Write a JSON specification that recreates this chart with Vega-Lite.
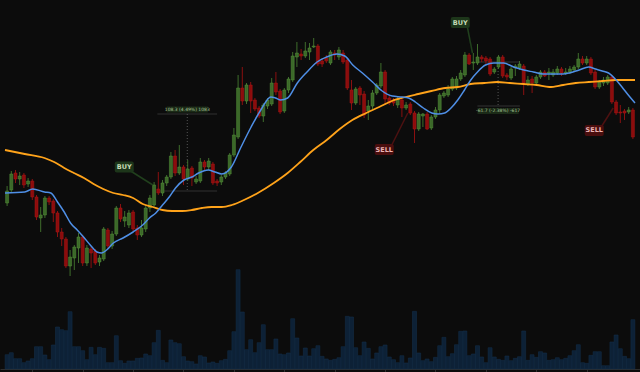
{
  "$schema": "https://vega.github.io/schema/vega-lite/v6.json",
  "width": 640,
  "height": 372,
  "padding": 0,
  "autosize": {"type": "none"},
  "background": "#0c0c0c",
  "config": {"view": {"stroke": null}},
  "datasets": {
    "candles": [
      {"i":0,"o":2397,"h":2414,"l":2394,"c":2409,"v":143000},
      {"i":1,"o":2410,"h":2429,"l":2408,"c":2426,"v":163000},
      {"i":2,"o":2427,"h":2430,"l":2417,"c":2421,"v":103000},
      {"i":3,"o":2421,"h":2428,"l":2415,"c":2424,"v":103000},
      {"i":4,"o":2425,"h":2427,"l":2412,"c":2415,"v":63000},
      {"i":5,"o":2416,"h":2422,"l":2413,"c":2419,"v":80000},
      {"i":6,"o":2419,"h":2421,"l":2400,"c":2403,"v":103000},
      {"i":7,"o":2403,"h":2405,"l":2380,"c":2383,"v":223000},
      {"i":8,"o":2382,"h":2393,"l":2368,"c":2385,"v":223000},
      {"i":9,"o":2385,"h":2404,"l":2382,"c":2402,"v":140000},
      {"i":10,"o":2402,"h":2404,"l":2395,"c":2398,"v":93000},
      {"i":11,"o":2399,"h":2401,"l":2378,"c":2387,"v":240000},
      {"i":12,"o":2387,"h":2389,"l":2363,"c":2368,"v":420000},
      {"i":13,"o":2368,"h":2372,"l":2354,"c":2361,"v":393000},
      {"i":14,"o":2361,"h":2363,"l":2332,"c":2334,"v":383000},
      {"i":15,"o":2334,"h":2350,"l":2324,"c":2343,"v":573000},
      {"i":16,"o":2342,"h":2355,"l":2330,"c":2353,"v":223000},
      {"i":17,"o":2352,"h":2367,"l":2337,"c":2363,"v":223000},
      {"i":18,"o":2363,"h":2365,"l":2334,"c":2337,"v":183000},
      {"i":19,"o":2337,"h":2355,"l":2334,"c":2352,"v":93000},
      {"i":20,"o":2351,"h":2353,"l":2332,"c":2347,"v":217000},
      {"i":21,"o":2349,"h":2351,"l":2335,"c":2337,"v":143000},
      {"i":22,"o":2338,"h":2345,"l":2334,"c":2342,"v":217000},
      {"i":23,"o":2341,"h":2373,"l":2339,"c":2371,"v":207000},
      {"i":24,"o":2370,"h":2372,"l":2351,"c":2354,"v":63000},
      {"i":25,"o":2354,"h":2369,"l":2351,"c":2366,"v":63000},
      {"i":26,"o":2366,"h":2394,"l":2364,"c":2392,"v":333000},
      {"i":27,"o":2392,"h":2396,"l":2378,"c":2381,"v":83000},
      {"i":28,"o":2379,"h":2389,"l":2373,"c":2383,"v":57000},
      {"i":29,"o":2375,"h":2390,"l":2372,"c":2387,"v":80000},
      {"i":30,"o":2388,"h":2390,"l":2369,"c":2371,"v":80000},
      {"i":31,"o":2372,"h":2375,"l":2360,"c":2365,"v":107000},
      {"i":32,"o":2365,"h":2380,"l":2363,"c":2372,"v":110000},
      {"i":33,"o":2371,"h":2395,"l":2368,"c":2392,"v":150000},
      {"i":34,"o":2392,"h":2405,"l":2388,"c":2402,"v":133000},
      {"i":35,"o":2395,"h":2418,"l":2393,"c":2415,"v":263000},
      {"i":36,"o":2411,"h":2428,"l":2405,"c":2407,"v":387000},
      {"i":37,"o":2407,"h":2420,"l":2404,"c":2417,"v":87000},
      {"i":38,"o":2417,"h":2425,"l":2414,"c":2423,"v":63000},
      {"i":39,"o":2423,"h":2448,"l":2421,"c":2444,"v":290000},
      {"i":40,"o":2444,"h":2450,"l":2424,"c":2427,"v":263000},
      {"i":41,"o":2427,"h":2455,"l":2425,"c":2433,"v":253000},
      {"i":42,"o":2433,"h":2435,"l":2415,"c":2421,"v":123000},
      {"i":43,"o":2421,"h":2440,"l":2419,"c":2431,"v":80000},
      {"i":44,"o":2432,"h":2434,"l":2414,"c":2422,"v":73000},
      {"i":45,"o":2418,"h":2424,"l":2416,"c":2421,"v":50000},
      {"i":46,"o":2419,"h":2442,"l":2417,"c":2438,"v":133000},
      {"i":47,"o":2438,"h":2440,"l":2430,"c":2433,"v":120000},
      {"i":48,"o":2433,"h":2442,"l":2430,"c":2439,"v":60000},
      {"i":49,"o":2436,"h":2438,"l":2415,"c":2417,"v":70000},
      {"i":50,"o":2419,"h":2421,"l":2414,"c":2417,"v":57000},
      {"i":51,"o":2418,"h":2425,"l":2415,"c":2423,"v":83000},
      {"i":52,"o":2423,"h":2429,"l":2421,"c":2427,"v":97000},
      {"i":53,"o":2426,"h":2447,"l":2424,"c":2445,"v":183000},
      {"i":54,"o":2445,"h":2472,"l":2443,"c":2465,"v":373000},
      {"i":55,"o":2463,"h":2525,"l":2461,"c":2512,"v":993000},
      {"i":56,"o":2512,"h":2533,"l":2495,"c":2499,"v":570000},
      {"i":57,"o":2499,"h":2517,"l":2496,"c":2515,"v":193000},
      {"i":58,"o":2515,"h":2518,"l":2487,"c":2499,"v":293000},
      {"i":59,"o":2500,"h":2502,"l":2489,"c":2491,"v":163000},
      {"i":60,"o":2492,"h":2494,"l":2482,"c":2484,"v":263000},
      {"i":61,"o":2484,"h":2497,"l":2478,"c":2495,"v":443000},
      {"i":62,"o":2494,"h":2502,"l":2491,"c":2500,"v":193000},
      {"i":63,"o":2496,"h":2522,"l":2494,"c":2517,"v":193000},
      {"i":64,"o":2517,"h":2528,"l":2505,"c":2508,"v":300000},
      {"i":65,"o":2509,"h":2511,"l":2486,"c":2488,"v":150000},
      {"i":66,"o":2489,"h":2512,"l":2487,"c":2510,"v":143000},
      {"i":67,"o":2510,"h":2523,"l":2507,"c":2521,"v":160000},
      {"i":68,"o":2520,"h":2548,"l":2518,"c":2544,"v":503000},
      {"i":69,"o":2543,"h":2558,"l":2533,"c":2547,"v":310000},
      {"i":70,"o":2546,"h":2551,"l":2540,"c":2544,"v":130000},
      {"i":71,"o":2544,"h":2558,"l":2542,"c":2549,"v":210000},
      {"i":72,"o":2548,"h":2557,"l":2540,"c":2552,"v":130000},
      {"i":73,"o":2553,"h":2562,"l":2552,"c":2554,"v":203000},
      {"i":74,"o":2554,"h":2556,"l":2534,"c":2536,"v":233000},
      {"i":75,"o":2539,"h":2542,"l":2533,"c":2536,"v":127000},
      {"i":76,"o":2542,"h":2545,"l":2537,"c":2539,"v":100000},
      {"i":77,"o":2537,"h":2550,"l":2535,"c":2548,"v":87000},
      {"i":78,"o":2547,"h":2550,"l":2540,"c":2545,"v":97000},
      {"i":79,"o":2543,"h":2553,"l":2540,"c":2550,"v":113000},
      {"i":80,"o":2547,"h":2550,"l":2536,"c":2538,"v":223000},
      {"i":81,"o":2540,"h":2542,"l":2510,"c":2512,"v":527000},
      {"i":82,"o":2510,"h":2520,"l":2490,"c":2497,"v":520000},
      {"i":83,"o":2497,"h":2513,"l":2495,"c":2511,"v":213000},
      {"i":84,"o":2512,"h":2514,"l":2495,"c":2505,"v":133000},
      {"i":85,"o":2506,"h":2509,"l":2482,"c":2485,"v":270000},
      {"i":86,"o":2489,"h":2500,"l":2480,"c":2494,"v":207000},
      {"i":87,"o":2494,"h":2510,"l":2491,"c":2507,"v":100000},
      {"i":88,"o":2507,"h":2517,"l":2505,"c":2515,"v":160000},
      {"i":89,"o":2514,"h":2537,"l":2512,"c":2528,"v":223000},
      {"i":90,"o":2528,"h":2530,"l":2495,"c":2501,"v":240000},
      {"i":91,"o":2502,"h":2505,"l":2495,"c":2497,"v":120000},
      {"i":92,"o":2500,"h":2502,"l":2494,"c":2497,"v":93000},
      {"i":93,"o":2495,"h":2504,"l":2492,"c":2501,"v":63000},
      {"i":94,"o":2500,"h":2502,"l":2483,"c":2492,"v":133000},
      {"i":95,"o":2492,"h":2498,"l":2490,"c":2495,"v":60000},
      {"i":96,"o":2496,"h":2498,"l":2485,"c":2487,"v":110000},
      {"i":97,"o":2487,"h":2489,"l":2457,"c":2471,"v":577000},
      {"i":98,"o":2471,"h":2488,"l":2469,"c":2486,"v":160000},
      {"i":99,"o":2484,"h":2487,"l":2473,"c":2486,"v":83000},
      {"i":100,"o":2486,"h":2488,"l":2470,"c":2471,"v":100000},
      {"i":101,"o":2472,"h":2485,"l":2470,"c":2483,"v":73000},
      {"i":102,"o":2483,"h":2493,"l":2481,"c":2490,"v":117000},
      {"i":103,"o":2490,"h":2507,"l":2487,"c":2505,"v":233000},
      {"i":104,"o":2504,"h":2509,"l":2502,"c":2507,"v":317000},
      {"i":105,"o":2505,"h":2515,"l":2503,"c":2511,"v":123000},
      {"i":106,"o":2511,"h":2523,"l":2509,"c":2521,"v":153000},
      {"i":107,"o":2512,"h":2524,"l":2510,"c":2521,"v":243000},
      {"i":108,"o":2521,"h":2530,"l":2519,"c":2527,"v":377000},
      {"i":109,"o":2525,"h":2548,"l":2523,"c":2545,"v":380000},
      {"i":110,"o":2545,"h":2547,"l":2535,"c":2536,"v":133000},
      {"i":111,"o":2537,"h":2547,"l":2530,"c":2538,"v":150000},
      {"i":112,"o":2537,"h":2556,"l":2535,"c":2543,"v":233000},
      {"i":113,"o":2543,"h":2545,"l":2538,"c":2541,"v":120000},
      {"i":114,"o":2542,"h":2544,"l":2536,"c":2539,"v":63000},
      {"i":115,"o":2541,"h":2543,"l":2524,"c":2526,"v":213000},
      {"i":116,"o":2528,"h":2533,"l":2526,"c":2531,"v":120000},
      {"i":117,"o":2533,"h":2545,"l":2531,"c":2543,"v":97000},
      {"i":118,"o":2543,"h":2545,"l":2522,"c":2524,"v":87000},
      {"i":119,"o":2525,"h":2527,"l":2520,"c":2523,"v":130000},
      {"i":120,"o":2522,"h":2533,"l":2520,"c":2531,"v":83000},
      {"i":121,"o":2532,"h":2536,"l":2524,"c":2534,"v":107000},
      {"i":122,"o":2532,"h":2539,"l":2530,"c":2536,"v":123000},
      {"i":123,"o":2534,"h":2536,"l":2505,"c":2517,"v":380000},
      {"i":124,"o":2516,"h":2524,"l":2514,"c":2520,"v":87000},
      {"i":125,"o":2521,"h":2524,"l":2507,"c":2517,"v":143000},
      {"i":126,"o":2517,"h":2525,"l":2515,"c":2523,"v":117000},
      {"i":127,"o":2523,"h":2530,"l":2521,"c":2528,"v":173000},
      {"i":128,"o":2528,"h":2530,"l":2523,"c":2524,"v":160000},
      {"i":129,"o":2527,"h":2532,"l":2520,"c":2528,"v":87000},
      {"i":130,"o":2525,"h":2531,"l":2523,"c":2528,"v":93000},
      {"i":131,"o":2527,"h":2534,"l":2525,"c":2531,"v":113000},
      {"i":132,"o":2531,"h":2533,"l":2524,"c":2527,"v":93000},
      {"i":133,"o":2527,"h":2532,"l":2525,"c":2528,"v":107000},
      {"i":134,"o":2528,"h":2534,"l":2526,"c":2531,"v":133000},
      {"i":135,"o":2530,"h":2535,"l":2528,"c":2533,"v":183000},
      {"i":136,"o":2533,"h":2547,"l":2531,"c":2541,"v":243000},
      {"i":137,"o":2541,"h":2544,"l":2535,"c":2537,"v":63000},
      {"i":138,"o":2537,"h":2544,"l":2535,"c":2541,"v":57000},
      {"i":139,"o":2541,"h":2543,"l":2525,"c":2527,"v":137000},
      {"i":140,"o":2528,"h":2530,"l":2511,"c":2513,"v":173000},
      {"i":141,"o":2513,"h":2520,"l":2511,"c":2518,"v":173000},
      {"i":142,"o":2517,"h":2523,"l":2514,"c":2520,"v":33000},
      {"i":143,"o":2517,"h":2525,"l":2515,"c":2523,"v":33000},
      {"i":144,"o":2523,"h":2525,"l":2496,"c":2498,"v":270000},
      {"i":145,"o":2498,"h":2500,"l":2485,"c":2487,"v":340000},
      {"i":146,"o":2488,"h":2495,"l":2477,"c":2487,"v":203000},
      {"i":147,"o":2489,"h":2491,"l":2480,"c":2487,"v":127000},
      {"i":148,"o":2488,"h":2493,"l":2486,"c":2490,"v":103000},
      {"i":149,"o":2490,"h":2492,"l":2461,"c":2463,"v":493000}
    ],
    "ma": [
      {"s":"fast","i":-0.5,"p":2407},{"s":"fast","i":4.2,"p":2408},{"s":"fast","i":6.1,"p":2411},{"s":"fast","i":8.9,"p":2408},
      {"s":"fast","i":10.4,"p":2407},{"s":"fast","i":12,"p":2398},{"s":"fast","i":13.6,"p":2388},{"s":"fast","i":15.1,"p":2377},
      {"s":"fast","i":16.7,"p":2370},{"s":"fast","i":18.2,"p":2363},{"s":"fast","i":19.8,"p":2355},{"s":"fast","i":21.4,"p":2348},
      {"s":"fast","i":22.5,"p":2347},{"s":"fast","i":23.7,"p":2350},{"s":"fast","i":25.3,"p":2357},{"s":"fast","i":27.6,"p":2362},
      {"s":"fast","i":30,"p":2368},{"s":"fast","i":32.3,"p":2375},{"s":"fast","i":33.9,"p":2382},{"s":"fast","i":35.4,"p":2387},
      {"s":"fast","i":37,"p":2395},{"s":"fast","i":38.6,"p":2403},{"s":"fast","i":40.1,"p":2412},{"s":"fast","i":42.1,"p":2420},
      {"s":"fast","i":44,"p":2423},{"s":"fast","i":45.6,"p":2427},{"s":"fast","i":47.9,"p":2430},{"s":"fast","i":49.5,"p":2428},
      {"s":"fast","i":51.1,"p":2426},{"s":"fast","i":53.4,"p":2433},{"s":"fast","i":55.7,"p":2453},{"s":"fast","i":58.1,"p":2473},
      {"s":"fast","i":60.4,"p":2490},{"s":"fast","i":62.8,"p":2503},{"s":"fast","i":63.9,"p":2502},{"s":"fast","i":65.1,"p":2500},
      {"s":"fast","i":66.8,"p":2502},{"s":"fast","i":69.1,"p":2517},{"s":"fast","i":71.4,"p":2528},{"s":"fast","i":73.8,"p":2538},
      {"s":"fast","i":76.1,"p":2543},{"s":"fast","i":78.5,"p":2546},{"s":"fast","i":80.4,"p":2544},{"s":"fast","i":82.3,"p":2535},
      {"s":"fast","i":84.6,"p":2527},{"s":"fast","i":87,"p":2518},{"s":"fast","i":89.3,"p":2509},{"s":"fast","i":91.7,"p":2504},
      {"s":"fast","i":94,"p":2503},{"s":"fast","i":95.6,"p":2502},{"s":"fast","i":97.2,"p":2498},{"s":"fast","i":99.1,"p":2492},
      {"s":"fast","i":101.1,"p":2487},{"s":"fast","i":102.6,"p":2486},{"s":"fast","i":104.2,"p":2487},{"s":"fast","i":105.7,"p":2492},
      {"s":"fast","i":107.3,"p":2500},{"s":"fast","i":108.9,"p":2510},{"s":"fast","i":110.4,"p":2520},{"s":"fast","i":112,"p":2528},
      {"s":"fast","i":113.9,"p":2535},{"s":"fast","i":115.9,"p":2537},{"s":"fast","i":118.2,"p":2537},{"s":"fast","i":120.6,"p":2533},
      {"s":"fast","i":123,"p":2530},{"s":"fast","i":125.3,"p":2528},{"s":"fast","i":127.6,"p":2526},{"s":"fast","i":130,"p":2526},
      {"s":"fast","i":132.3,"p":2526},{"s":"fast","i":133.9,"p":2527},{"s":"fast","i":136.2,"p":2530},{"s":"fast","i":138.5,"p":2533},
      {"s":"fast","i":140.1,"p":2531},{"s":"fast","i":141.7,"p":2529},{"s":"fast","i":143.2,"p":2527},{"s":"fast","i":144.8,"p":2521},
      {"s":"fast","i":146.4,"p":2513},{"s":"fast","i":147.9,"p":2505},{"s":"fast","i":149.5,"p":2497},
      {"s":"slow","i":-0.5,"p":2450},{"s":"slow","i":4.2,"p":2446},{"s":"slow","i":8.9,"p":2442},{"s":"slow","i":11.2,"p":2438},
      {"s":"slow","i":13.6,"p":2432},{"s":"slow","i":15.9,"p":2427},{"s":"slow","i":18.3,"p":2422},{"s":"slow","i":20.6,"p":2416},
      {"s":"slow","i":22.9,"p":2411},{"s":"slow","i":25.3,"p":2407},{"s":"slow","i":27.6,"p":2405},{"s":"slow","i":30,"p":2402},
      {"s":"slow","i":32.3,"p":2396},{"s":"slow","i":34.7,"p":2393},{"s":"slow","i":37,"p":2390},{"s":"slow","i":39.3,"p":2389},
      {"s":"slow","i":41.7,"p":2389},{"s":"slow","i":44,"p":2390},{"s":"slow","i":46.4,"p":2392},{"s":"slow","i":48.7,"p":2393},
      {"s":"slow","i":51.1,"p":2393},{"s":"slow","i":53.5,"p":2395},{"s":"slow","i":56.4,"p":2400},{"s":"slow","i":59.7,"p":2407},
      {"s":"slow","i":63.5,"p":2417},{"s":"slow","i":66.8,"p":2427},{"s":"slow","i":69.8,"p":2438},{"s":"slow","i":72.9,"p":2450},
      {"s":"slow","i":76.1,"p":2460},{"s":"slow","i":79.2,"p":2471},{"s":"slow","i":82.2,"p":2480},{"s":"slow","i":85.5,"p":2487},
      {"s":"slow","i":88.6,"p":2493},{"s":"slow","i":91.6,"p":2499},{"s":"slow","i":94.9,"p":2503},{"s":"slow","i":97.9,"p":2506},
      {"s":"slow","i":101,"p":2509},{"s":"slow","i":104.3,"p":2512},{"s":"slow","i":107.3,"p":2513},{"s":"slow","i":110.4,"p":2516},
      {"s":"slow","i":113.6,"p":2517},{"s":"slow","i":116.7,"p":2518},{"s":"slow","i":119.7,"p":2517},{"s":"slow","i":123,"p":2516},
      {"s":"slow","i":126.1,"p":2515},{"s":"slow","i":129.1,"p":2513},{"s":"slow","i":132.4,"p":2515},{"s":"slow","i":135.4,"p":2517},
      {"s":"slow","i":138.5,"p":2518},{"s":"slow","i":141.8,"p":2519},{"s":"slow","i":144.8,"p":2520},{"s":"slow","i":147.8,"p":2520},
      {"s":"slow","i":149.5,"p":2520}
    ],
    "measures": [
      {"i1":35.8,"i2":50,"p1":2486,"p2":2486,"d":"solid"},
      {"i1":35.8,"i2":50,"p1":2409,"p2":2409,"d":"solid"},
      {"i1":42.9,"i2":42.9,"p1":2486,"p2":2410,"d":"dotted"},
      {"i1":112,"i2":122.1,"p1":2538,"p2":2538,"d":"solid"},
      {"i1":112,"i2":122.1,"p1":2494,"p2":2494,"d":"solid"},
      {"i1":116.9,"i2":116.9,"p1":2538,"p2":2494,"d":"dotted"}
    ],
    "mlabels": [
      {"i":42.9,"p":2490.5,"t":"108.3 (4.49%) 1083"},
      {"i":116.9,"p":2489,"t":"-61.7 (-2.38%) -617"}
    ],
    "signals": [
      {"k":"BUY","li":27.9,"lp":2433,"si":27.9,"sp":2433,"ti":34.7,"tp":2415},
      {"k":"BUY","li":107.9,"lp":2577.5,"si":109.4,"sp":2577,"ti":110.8,"tp":2547},
      {"k":"SELL","li":89.8,"lp":2450.5,"si":91.0,"sp":2450,"ti":95.4,"tp":2487},
      {"k":"SELL","li":139.8,"lp":2469.6,"si":141.0,"sp":2470,"ti":144.3,"tp":2492}
    ]
  },
  "layer": [
    {
      "data": {"name": "candles"},
      "mark": {"type": "bar", "width": 4, "fill": "#0d2136", "stroke": "#15304c", "strokeWidth": 0.5},
      "encoding": {
        "x": {"field": "i", "type": "quantitative", "scale": {"domain": [-0.5, 149.5], "nice": false, "zero": false},
              "axis": {"values": [6,12,18,24,30,36,42,48,54,60,66,72,78,84,90,96,102,108,114,120,126,132,138,144],
                       "labels": false, "title": null, "grid": false, "tickSize": 3, "offset": -3,
                       "domainColor": "#2e2e2e", "tickColor": "#2e2e2e", "domainWidth": 1, "tickWidth": 1}},
        "y": {"field": "v", "type": "quantitative", "scale": {"domain": [0, 3690000], "range": [369, 0]}, "axis": null}
      }
    },
    {
      "layer": [
        {
          "data": {"name": "measures"},
          "mark": {"type": "rule", "strokeWidth": 1},
          "encoding": {
            "x": {"field": "i1", "type": "quantitative", "scale": {"domain": [-0.5, 149.5], "nice": false, "zero": false}},
            "x2": {"field": "i2"},
            "y": {"field": "p1", "type": "quantitative", "scale": {"domain": [2228, 2600], "nice": false, "zero": false}, "axis": null},
            "y2": {"field": "p2"},
            "strokeDash": {"condition": {"test": "datum.d == 'dotted'", "value": [1, 2]}, "value": [1, 0]},
            "color": {"condition": {"test": "datum.d == 'dotted'", "value": "#555555"}, "value": "#393939"}
          }
        },
        {
          "data": {"name": "candles"},
          "mark": {"type": "rule", "strokeWidth": 1},
          "encoding": {
            "x": {"field": "i", "type": "quantitative"},
            "y": {"field": "h", "type": "quantitative"},
            "y2": {"field": "l"},
            "color": {"condition": {"test": "datum.c >= datum.o", "value": "#3f6d2c"}, "value": "#8a1010"}
          }
        },
        {
          "data": {"name": "candles"},
          "mark": {"type": "bar", "width": 3, "strokeWidth": 0.5},
          "encoding": {
            "x": {"field": "i", "type": "quantitative"},
            "y": {"field": "o", "type": "quantitative"},
            "y2": {"field": "c"},
            "fill": {"condition": {"test": "datum.c >= datum.o", "value": "#3b6829"}, "value": "#8c0c0c"},
            "stroke": {"condition": {"test": "datum.c >= datum.o", "value": "#55923a"}, "value": "#a81616"}
          }
        },
        {
          "data": {"name": "ma"},
          "transform": [{"filter": "datum.s == 'slow'"}],
          "mark": {"type": "line", "interpolate": "monotone", "color": "#ffa31a", "strokeWidth": 1.8},
          "encoding": {
            "x": {"field": "i", "type": "quantitative"},
            "y": {"field": "p", "type": "quantitative"}
          }
        },
        {
          "data": {"name": "ma"},
          "transform": [{"filter": "datum.s == 'fast'"}],
          "mark": {"type": "line", "interpolate": "monotone", "color": "#4f8fe6", "strokeWidth": 1.5},
          "encoding": {
            "x": {"field": "i", "type": "quantitative"},
            "y": {"field": "p", "type": "quantitative"}
          }
        },
        {
          "data": {"name": "mlabels"},
          "mark": {"type": "point", "shape": "M-1,-0.15L1,-0.15L1,0.15L-1,0.15Z", "size": 1700, "filled": true, "opacity": 1, "color": "#1b2a17", "strokeWidth": 0},
          "encoding": {
            "x": {"field": "i", "type": "quantitative"},
            "y": {"field": "p", "type": "quantitative"}
          }
        },
        {
          "data": {"name": "mlabels"},
          "mark": {"type": "text", "fontSize": 4.5, "font": "DejaVu Sans", "color": "#a9c79a", "align": "center", "baseline": "middle"},
          "encoding": {
            "x": {"field": "i", "type": "quantitative"},
            "y": {"field": "p", "type": "quantitative"},
            "text": {"field": "t"}
          }
        },
        {
          "data": {"name": "signals"},
          "mark": {"type": "rule", "strokeWidth": 1.5},
          "encoding": {
            "x": {"field": "si", "type": "quantitative"},
            "x2": {"field": "ti"},
            "y": {"field": "sp", "type": "quantitative"},
            "y2": {"field": "tp"},
            "color": {"condition": {"test": "datum.k == 'BUY'", "value": "#21401d"}, "value": "#4d1111"}
          }
        },
        {
          "data": {"name": "signals"},
          "mark": {"type": "point", "shape": "M-0.8,-0.58L0.8,-0.58Q1,-0.58 1,-0.38L1,0.38Q1,0.58 0.8,0.58L-0.8,0.58Q-1,0.58 -1,0.38L-1,-0.38Q-1,-0.58 -0.8,-0.58Z", "size": 361, "filled": true, "opacity": 1, "strokeWidth": 0},
          "encoding": {
            "x": {"field": "li", "type": "quantitative"},
            "y": {"field": "lp", "type": "quantitative"},
            "color": {"condition": {"test": "datum.k == 'BUY'", "value": "#1d361a"}, "value": "#4a0e0e"}
          }
        },
        {
          "data": {"name": "signals"},
          "mark": {"type": "text", "fontSize": 6.5, "fontWeight": "bold", "font": "DejaVu Sans", "align": "center", "baseline": "middle"},
          "encoding": {
            "x": {"field": "li", "type": "quantitative"},
            "y": {"field": "lp", "type": "quantitative"},
            "text": {"field": "k"},
            "color": {"condition": {"test": "datum.k == 'BUY'", "value": "#c5dcb8"}, "value": "#eab4b4"}
          }
        }
      ]
    }
  ],
  "resolve": {"scale": {"y": "independent"}}
}
